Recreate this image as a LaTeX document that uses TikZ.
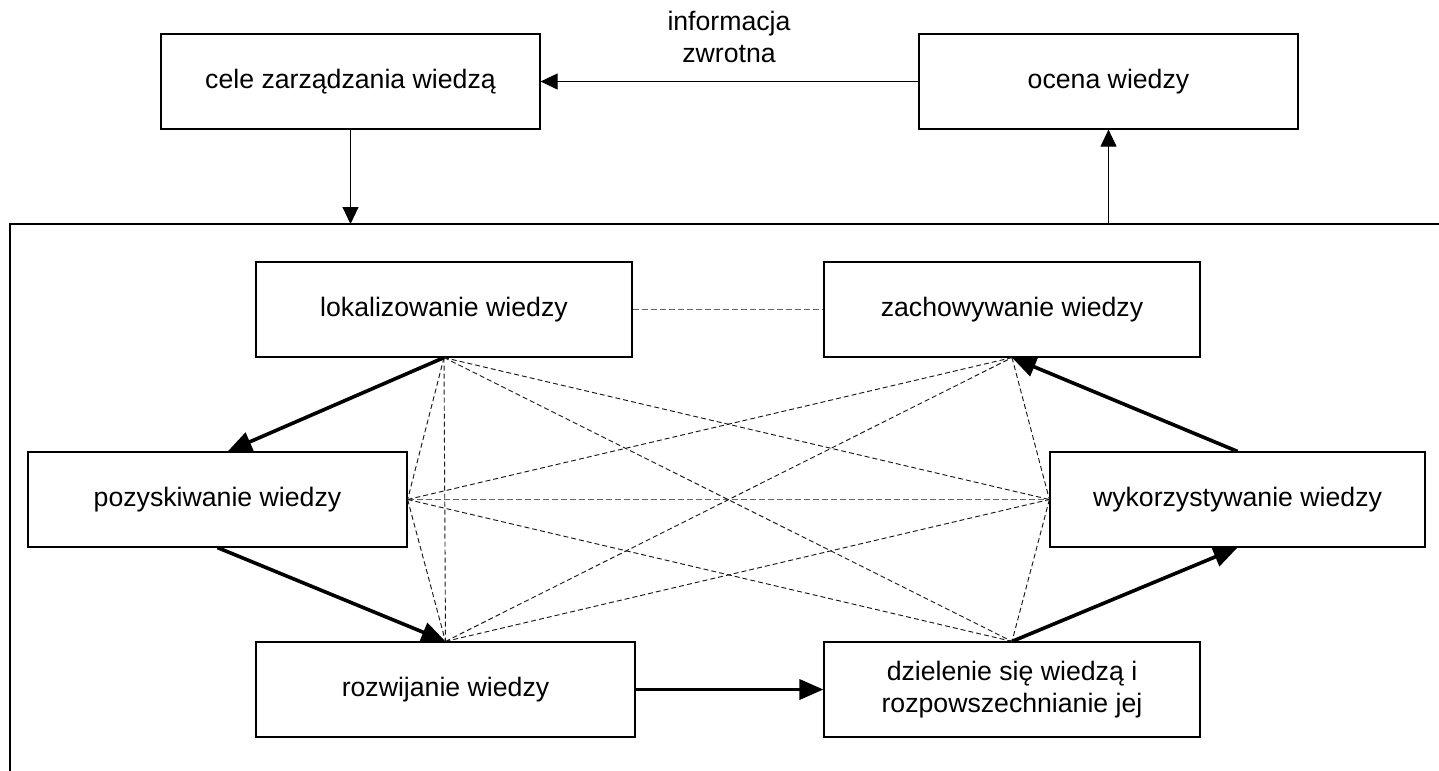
\documentclass[tikz,border=0pt]{standalone}
\usepackage{fontspec}
\setmainfont{Liberation Sans}
\usepackage{tikz}
\usepackage{xcolor}
\usetikzlibrary{arrows.meta}

\tikzset{
  blok/.style={draw, line width=0.9pt, minimum height=71.25pt, inner sep=0pt, align=center,
    font=\fontsize{20}{24}\selectfont},
  cienka/.style={line width=0.75pt, -{Triangle[length=12.75pt,width=12pt]}},
  gruba/.style={line width=2.7pt, -{Triangle[length=18pt,width=15pt]}},
  kreska/.style={line width=0.7pt, dash pattern=on 3.75pt off 2.25pt, draw=black!90},
  szara/.style={line width=1pt, dash pattern=on 4.5pt off 2.25pt, draw=black!60}
}

\begin{document}
\begin{tikzpicture}[x=0.75pt,y=0.75pt,yscale=-1,xscale=1]
\useasboundingbox (0,0) rectangle (1439,771);

% Text Node
\node [blok, minimum width=284.25pt] (cele) at (350.5,81.5) {cele zarządzania wiedzą};
% Text Node
\node [blok, minimum width=284.25pt] (ocena) at (1108.5,81.5) {ocena wiedzy};
% Text Node
\node [font=\fontsize{20}{24}\selectfont, align=center, inner sep=0pt] (info) at (729,37) {informacja\\zwrotna};

% Text Node
\node [blok, minimum width=282pt] (lok) at (444,309.5) {lokalizowanie wiedzy};
% Text Node
\node [blok, minimum width=282pt] (zach) at (1012,309.5) {zachowywanie wiedzy};
% Text Node
\node [blok, minimum width=284.25pt] (poz) at (217.5,499.5) {pozyskiwanie wiedzy};
% Text Node
\node [blok, minimum width=281.25pt] (wyk) at (1237.5,499.5) {wykorzystywanie wiedzy};
% Text Node
\node [blok, minimum width=284.25pt] (roz) at (445.5,689.5) {rozwijanie wiedzy};
% Text Node
\node [blok, minimum width=282pt] (dziel) at (1012,689.5) {dzielenie się wiedzą i\\rozpowszechnianie jej};

%Shape: frame
\coordinate (ramaD) at (10,771);
\coordinate (ramaL) at (10,224);
\coordinate (ramaP) at (1439,224);
\draw [line width=0.9pt] (ramaD) -- (ramaL) -- (ramaP) ;

%Straight Lines: top arrows
\draw [cienka] (cele.south) -- (cele.south |- ramaL) ;
\draw [cienka] (ocena.south |- ramaL) -- (ocena.south) ;
\draw [cienka] (ocena.west) -- (cele.east) ;

%Straight Lines: dashed links
\draw [szara] (lok.east) -- (zach.west) ;
\draw [szara] (poz.east) -- (wyk.west) ;
\draw [kreska] (lok.south) -- (poz.east) ;
\draw [kreska] (lok.south) -- (roz.north) ;
\draw [kreska] (lok.south) -- (wyk.west) ;
\draw [kreska] (lok.south) -- (dziel.north) ;
\draw [kreska] (poz.east) -- (roz.north) ;
\draw [kreska] (poz.east) -- (zach.south) ;
\draw [kreska] (poz.east) -- (dziel.north) ;
\draw [kreska] (roz.north) -- (zach.south) ;
\draw [kreska] (roz.north) -- (wyk.west) ;
\draw [kreska] (zach.south) -- (wyk.west) ;
\draw [kreska] (wyk.west) -- (dziel.north) ;

%Straight Lines: thick cycle
\draw [gruba] (lok.south) -- (poz.78) ;
\draw [gruba] (poz.south) -- (roz.north) ;
\draw [gruba] (roz.east) -- (dziel.west) ;
\draw [gruba] (dziel.north) -- (wyk.south) ;
\draw [gruba] (wyk.north) -- (zach.south) ;
\end{tikzpicture}
\end{document}
